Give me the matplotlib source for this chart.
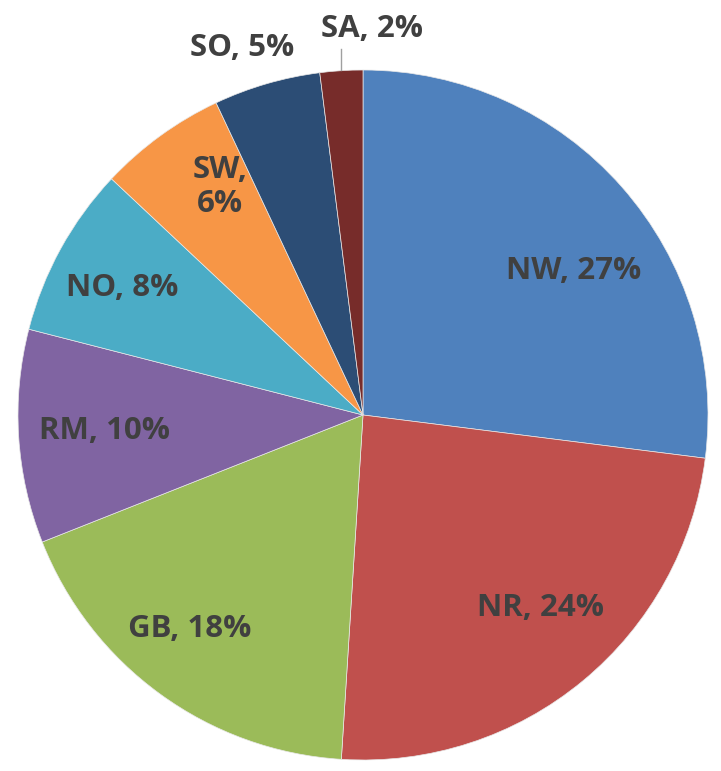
import numpy as np
import matplotlib.pyplot as plt

# Data
regions = ['NW', 'NR', 'GB', 'RM', 'NO', 'SW', 'SO', 'SA']
shares = [27, 24, 18, 10, 8, 6, 5, 2]
colors = ['#4F81BD', '#C0504D', '#9BBB59', '#8064A2', '#4BACC6', '#F79646', '#2C4D75', '#772C2A']

# label placement (fraction of radius, angle tweak in degrees)
label_dist = [0.74, 0.76, 0.80, 0.75, 0.79, 0.78, 1.12, 1.12]
label_shift = [-7, 3, -3, 0, 1, -4, 2, -5]

fig = plt.figure(figsize=(7.21, 7.71), dpi=100)
ax = fig.add_axes([0, 0, 1, 1])

R = 345
wedges, _ = ax.pie(shares, colors=colors, startangle=90, counterclock=False,
                   radius=R, center=(0, 0),
                   wedgeprops=dict(linewidth=0.5, edgecolor='#e8e8e8'))

ax.set_xlim(-363, 721 - 363)
ax.set_ylim(-(771 - 415), 415)
ax.set_aspect('equal')
ax.axis('off')

for w, reg, val, d, s in zip(wedges, regions, shares, label_dist, label_shift):
    ang = np.deg2rad((w.theta1 + w.theta2) / 2 + s)
    x = d * R * np.cos(ang)
    y = d * R * np.sin(ang)
    txt = f'{reg},\n{val}%' if reg == 'SW' else f'{reg}, {val}%'
    ax.text(x, y, txt, ha='center', va='center', fontsize=22.5, fontweight='bold',
            color='#404040', family='Open Sans', linespacing=1.15)

# leader line for the small slice
sa = wedges[-1]
mid = np.deg2rad((sa.theta1 + sa.theta2) / 2)
ax.plot([R * np.cos(mid)] * 2, [R * 1.0, R * 1.06], color='#a0a0a0', lw=1)

fig.savefig('out.png', dpi=100)
